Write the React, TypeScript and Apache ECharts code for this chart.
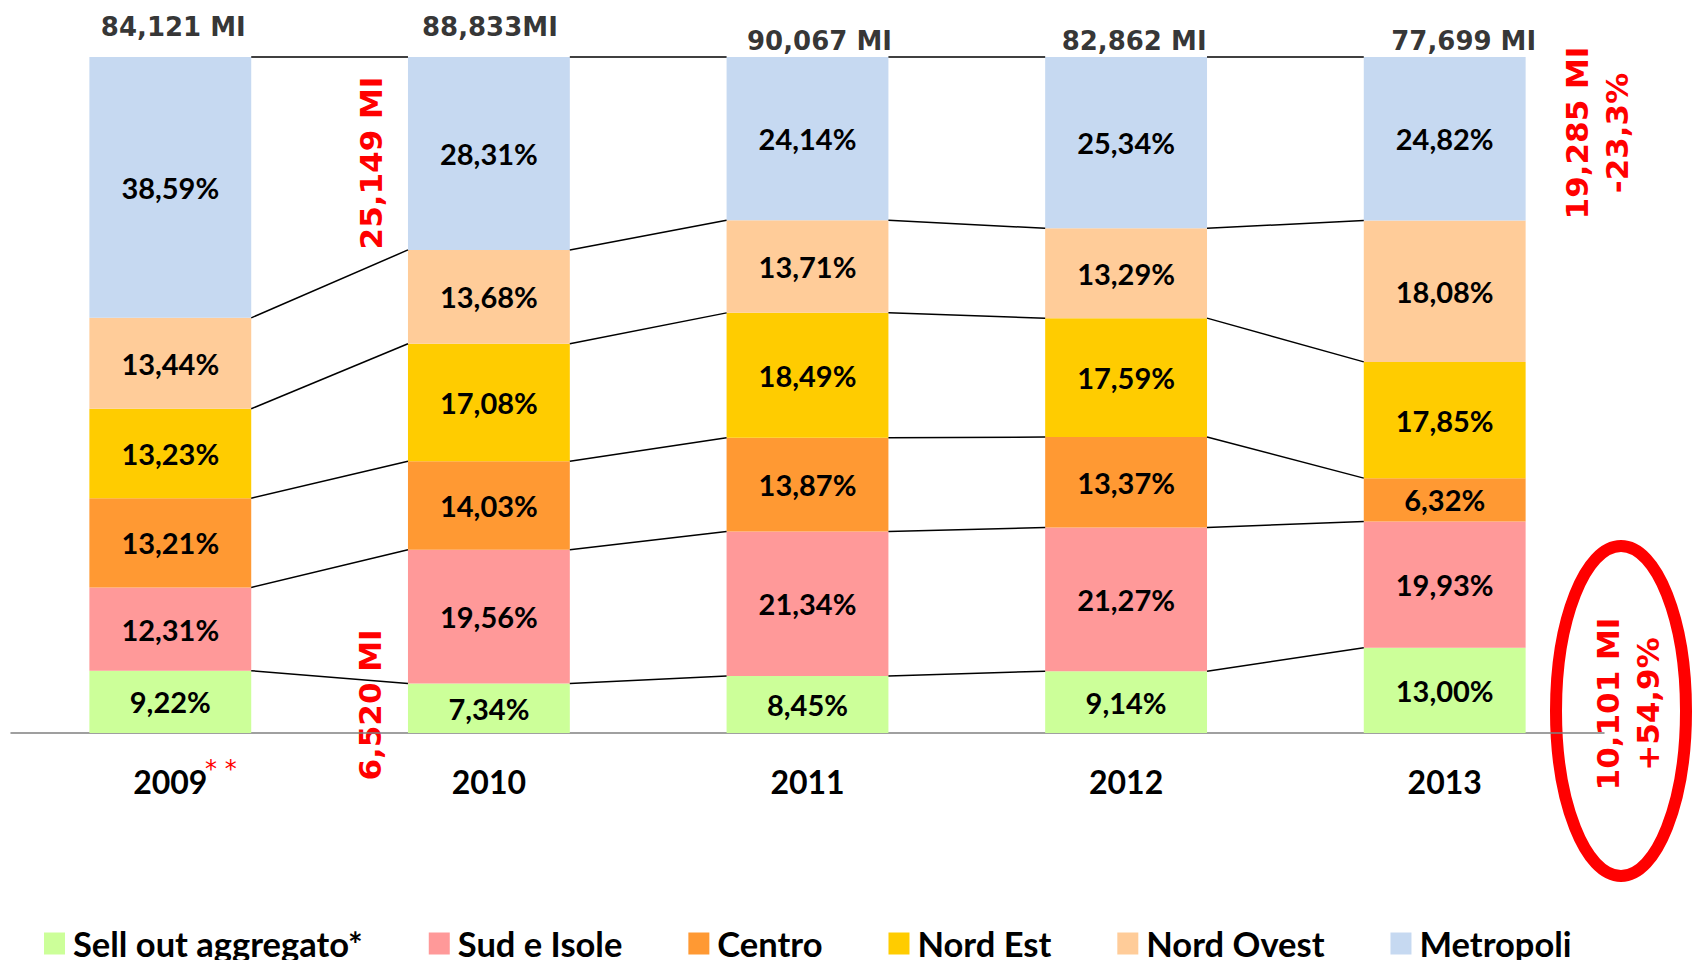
import React, { useEffect, useRef } from "react";
import * as echarts from "echarts";

const years = ["2009", "2010", "2011", "2012", "2013"];
const seriesNames = ["Sell out aggregato*", "Sud e Isole", "Centro", "Nord Est", "Nord Ovest", "Metropoli"];
const seriesColors = ["#CCFF99", "#FF9999", "#FF9933", "#FFCC00", "#FFCC99", "#C6D9F1"];

// bar shares (% of yearly total)
const sellOut = [9.22, 7.34, 8.45, 9.14, 12.6];
const sudIsole = [12.31, 19.78, 21.34, 21.27, 18.7];
const centro = [13.21, 13.08, 13.87, 13.37, 6.4];
const nordEst = [13.23, 17.38, 18.49, 17.59, 17.2];
const nordOvest = [13.44, 13.88, 13.71, 13.29, 20.9];
const metropoli = [38.59, 28.54, 24.14, 25.34, 24.2];

// printed segment labels
const sellOutLabels = ["9,22%", "7,34%", "8,45%", "9,14%", "13,00%"];
const sudIsoleLabels = ["12,31%", "19,56%", "21,34%", "21,27%", "19,93%"];
const centroLabels = ["13,21%", "14,03%", "13,87%", "13,37%", "6,32%"];
const nordEstLabels = ["13,23%", "17,08%", "18,49%", "17,59%", "17,85%"];
const nordOvestLabels = ["13,44%", "13,68%", "13,71%", "13,29%", "18,08%"];
const metropoliLabels = ["38,59%", "28,31%", "24,14%", "25,34%", "24,82%"];

// yearly totals printed above the bars
const totalLabels = ["84,121 MI", "88,833MI", "90,067 MI", "82,862 MI", "77,699 MI"];

const shares = [sellOut, sudIsole, centro, nordEst, nordOvest, metropoli];
const shareLabels = [sellOutLabels, sudIsoleLabels, centroLabels, nordEstLabels, nordOvestLabels, metropoliLabels];

const BAR_FRAC = 0.508;
const totalOffsets = [[3, -30], [1, -30], [12, -16], [8, -16], [19, -16]];

export default function App() {
  const ref = useRef<HTMLDivElement>(null);
  useEffect(() => {
    document.body.style.margin = "0";
    const chart = echarts.init(ref.current!, undefined, { renderer: "svg" });
    const barSeries = shares.map((vals, si) => ({
      name: seriesNames[si],
      type: "bar",
      stack: "total",
      barWidth: BAR_FRAC * 100 + "%",
      itemStyle: { color: seriesColors[si] },
      label: {
        show: true,
        position: "inside",
        color: "#000",
        fontFamily: "Lato",
        fontWeight: "bold",
        fontSize: 29,
        formatter: (p: any) => shareLabels[si][p.dataIndex],
      },
      data: vals,
    }));
    const option: any = {
      animation: false,
      grid: { left: 11, right: 89, top: 57, bottom: 227 },
      legend: {
        data: seriesNames,
        left: 44,
        top: 926,
        padding: 0,
        itemWidth: 21,
        itemHeight: 22,
        itemGap: 66,
        icon: "rect",
        selectedMode: false,
        textStyle: {
          fontFamily: "Lato",
          fontWeight: "bold",
          fontSize: 34.5,
          color: "#000",
          padding: [0, 0, 0, 3],
        },
      },
      xAxis: {
        type: "category",
        data: years,
        axisLine: { lineStyle: { color: "#808080", width: 1.5 } },
        axisTick: { show: false },
        axisLabel: {
          margin: 32,
          color: "#000",
          fontFamily: "Lato",
          fontWeight: "bold",
          fontSize: 32,
        },
      },
      yAxis: { type: "value", min: 0, max: 100, show: false, splitLine: { show: false } },
      series: [
        ...barSeries,
        {
          name: "connectors",
          type: "custom",
          silent: true,
          z: 3,
          data: [[0, 0], [1, 0], [2, 0], [3, 0]],
          renderItem: (params: any, api: any) => {
            const i = api.value(0);
            const band = api.size([1, 0])[0];
            const half = (band * BAR_FRAC) / 2;
            const children: any[] = [];
            let cA = 0;
            let cB = 0;
            for (let k = 0; k < shares.length; k++) {
              cA += shares[k][i];
              cB += shares[k][i + 1];
              const a = api.coord([i, cA]);
              const b = api.coord([i + 1, cB]);
              children.push({
                type: "line",
                shape: { x1: a[0] + half, y1: a[1], x2: b[0] - half, y2: b[1] },
                style: { stroke: "#000", lineWidth: 1.5 },
              });
            }
            return { type: "group", children };
          },
        },
        {
          name: "totals",
          type: "scatter",
          silent: true,
          symbolSize: 0,
          label: {
            show: true,
            position: "inside",
            color: "#000",
            fontFamily: "DejaVu Sans",
            fontWeight: "bold",
            fontSize: 26,
            formatter: (p: any) => totalLabels[p.dataIndex],
          },
          data: years.map((_, i) => ({ value: 100, label: { offset: totalOffsets[i] } })),
        },
      ],
      graphic: [
        {
          type: "text",
          x: 205,
          y: 769,
          style: { text: "* *", fill: "#FF0000", font: "24px 'DejaVu Sans'", textVerticalAlign: "middle" },
        },
        {
          type: "text",
          x: 371,
          y: 163,
          rotation: Math.PI / 2,
          style: {
            text: "25,149 MI",
            fill: "#FF0000",
            font: "bold 31px 'DejaVu Sans'",
            textAlign: "center",
            textVerticalAlign: "middle",
          },
        },
        {
          type: "text",
          x: 370,
          y: 705,
          rotation: Math.PI / 2,
          style: {
            text: "6,520 MI",
            fill: "#FF0000",
            font: "bold 31px 'DejaVu Sans'",
            textAlign: "center",
            textVerticalAlign: "middle",
          },
        },
        {
          type: "text",
          x: 1597,
          y: 133,
          rotation: Math.PI / 2,
          style: {
            text: "19,285 MI\n-23,3%",
            fill: "#FF0000",
            font: "bold 31px 'DejaVu Sans'",
            lineHeight: 40,
            textAlign: "center",
            textVerticalAlign: "middle",
          },
        },
        {
          type: "text",
          x: 1628,
          y: 704,
          rotation: Math.PI / 2,
          style: {
            text: "10,101 MI\n+54,9%",
            fill: "#FF0000",
            font: "bold 31px 'DejaVu Sans'",
            lineHeight: 40,
            textAlign: "center",
            textVerticalAlign: "middle",
          },
        },
        {
          type: "ellipse",
          shape: { cx: 1621, cy: 711, rx: 65, ry: 165 },
          style: { fill: "none", stroke: "#FF0000", lineWidth: 12 },
        },
      ],
    };
    chart.setOption(option);
    return () => chart.dispose();
  }, []);
  return (
    <div
      ref={ref}
      style={{ position: "absolute", left: 0, top: 0, width: 1693, height: 960 }}
    />
  );
}
